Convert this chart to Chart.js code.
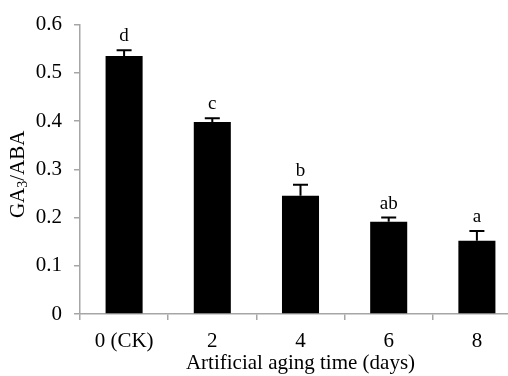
<!DOCTYPE html>
<html>
<head>
<meta charset="utf-8">
<script src="https://cdn.jsdelivr.net/npm/chart.js@4.4.1/dist/chart.umd.min.js"></script>
<style>
  html, body { margin: 0; padding: 0; background: #fff; overflow: hidden; }
  #wrap { width: 530px; height: 376px; }
</style>
</head>
<body>
<div id="wrap"><canvas id="chart" width="530" height="376"></canvas></div>
<script>
// GA3/ABA ratio vs artificial aging time
var categories = ['0 (CK)', '2', '4', '6', '8'];
var ratio = [0.535, 0.398, 0.245, 0.191, 0.152];
var errors = [0.012, 0.008, 0.023, 0.009, 0.020];
var letters = ['d', 'c', 'b', 'ab', 'a'];

var SERIF = '"Liberation Serif", "Times New Roman", serif';
var AXIS_GRAY = '#a6a6a6';

// error bars (upper only) + significance letters
var annotate = {
    id: 'annotate',
    afterDatasetsDraw: function (chart) {
        var ctx = chart.ctx;
        var xs = chart.scales.x, ys = chart.scales.y;
        ctx.save();
        ctx.strokeStyle = '#000';
        ctx.lineWidth = 2;
        ctx.fillStyle = '#000';
        ctx.font = '19px ' + SERIF;
        ctx.textAlign = 'center';
        ctx.textBaseline = 'alphabetic';
        for (var i = 0; i < ratio.length; i++) {
            var x = xs.getPixelForValue(i);
            var y0 = ys.getPixelForValue(ratio[i]);
            var y1 = ys.getPixelForValue(ratio[i] + errors[i]);
            ctx.beginPath();
            ctx.moveTo(x, y0);
            ctx.lineTo(x, y1);
            ctx.moveTo(x - 7.5, y1);
            ctx.lineTo(x + 7.5, y1);
            ctx.stroke();
            ctx.fillText(letters[i], x, y1 - 9);
        }
        ctx.restore();
    },
    afterDraw: function (chart) {
        // y title with subscript: GA3/ABA
        var ctx = chart.ctx;
        var ys = chart.scales.y;
        var cy = (ys.top + ys.bottom) / 2 + 5;
        ctx.save();
        ctx.translate(18, cy);
        ctx.rotate(-Math.PI / 2);
        ctx.fillStyle = '#000';
        ctx.textBaseline = 'middle';
        ctx.textAlign = 'left';
        var big = '21px ' + SERIF, small = '14px ' + SERIF;
        ctx.font = big;
        var w1 = ctx.measureText('GA').width;
        var w3 = ctx.measureText('/ABA').width;
        ctx.font = small;
        var w2 = ctx.measureText('3').width;
        var x = -(w1 + w2 + w3) / 2;
        ctx.font = big;
        ctx.fillText('GA', x, 0);
        ctx.font = small;
        ctx.fillText('3', x + w1, 5);
        ctx.font = big;
        ctx.fillText('/ABA', x + w1 + w2, 0);
        ctx.restore();
    }
};

new Chart(document.getElementById('chart'), {
    type: 'bar',
    data: {
        labels: categories,
        datasets: [
            {
                label: 'GA3/ABA',
                data: ratio,
                backgroundColor: '#000',
                borderWidth: 0,
                barPercentage: 0.42,
                categoryPercentage: 1.0,
            },
        ],
    },
    options: {
        responsive: false,
        animation: false,
        layout: { padding: { top: 19, right: 9, left: 0, bottom: 0 } },
        plugins: { legend: { display: false }, tooltip: { enabled: false } },
        scales: {
            x: {
                offset: true,
                grid: {
                    offset: true,
                    drawOnChartArea: false,
                    tickLength: 6,
                    color: AXIS_GRAY,
                    lineWidth: 1.5,
                },
                border: { color: AXIS_GRAY, width: 1.5 },
                ticks: {
                    color: '#000',
                    font: { family: SERIF, size: 21 },
                    padding: 9,
                    maxRotation: 0,
                },
                title: {
                    display: true,
                    text: 'Artificial aging time (days)',
                    color: '#000',
                    font: { family: SERIF, size: 21 },
                    padding: { top: 0, bottom: 0 },
                },
                afterFit: function (s) { s.height = 62; },
            },
            y: {
                min: 0,
                max: 0.6,
                grid: {
                    drawOnChartArea: false,
                    tickLength: 6,
                    color: AXIS_GRAY,
                    lineWidth: 1.5,
                },
                border: { color: AXIS_GRAY, width: 1.5 },
                ticks: {
                    stepSize: 0.1,
                    color: '#000',
                    font: { family: SERIF, size: 21 },
                    padding: 12,
                    callback: function (v) { return Math.round(v * 10) / 10; },
                },
                afterFit: function (s) { s.width = 80; },
            },
        },
    },
    plugins: [annotate],
});
</script>
</body>
</html>
